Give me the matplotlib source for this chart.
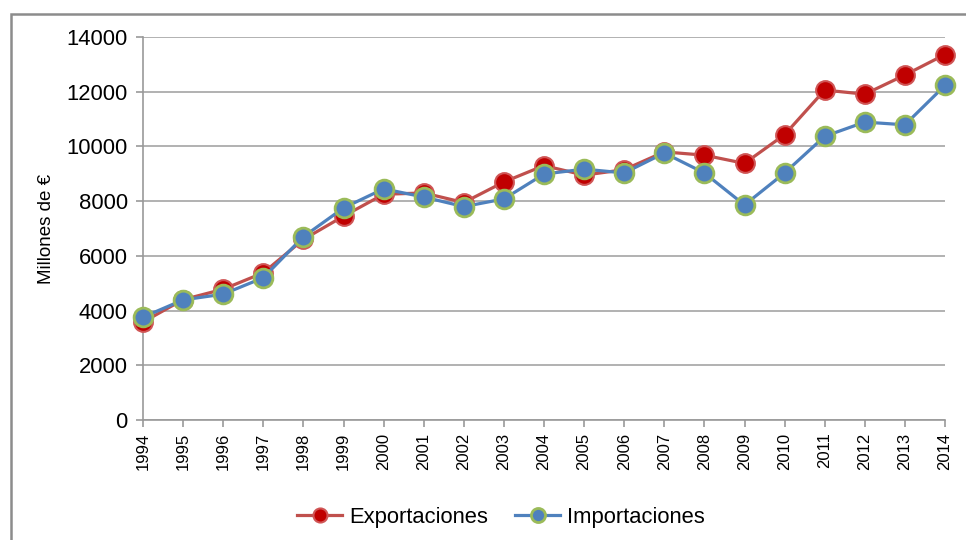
import matplotlib
matplotlib.use("Agg")
import matplotlib.pyplot as plt
from matplotlib.patches import Rectangle

plt.rcParams['font.family'] = ['Liberation Sans', 'DejaVu Sans']

years = list(range(1994, 2015))
exportaciones = [3580, 4400, 4780, 5380, 6600, 7450, 8250, 8300, 7950, 8700, 9300,
                 8950, 9150, 9800, 9680, 9380, 10430, 12060, 11910, 12610, 13360]
importaciones = [3760, 4390, 4600, 5200, 6700, 7750, 8450, 8150, 7800, 8080, 8990,
                 9170, 9030, 9760, 9030, 7860, 9030, 10370, 10890, 10790, 12230]
yticks = [0, 2000, 4000, 6000, 8000, 10000, 12000, 14000]

fig = plt.figure(figsize=(9.66, 5.4), dpi=100)
fig.patch.set_facecolor('white')

# outer chart border
fig.patches.append(Rectangle((11/966, -0.05), 1.1, 0.05 + 1 - 14/540,
                             transform=fig.transFigure, fill=False,
                             edgecolor='#8C8C8C', linewidth=1.8, zorder=0))

ax = fig.add_axes([143/966, 1 - 420/540, (945 - 143)/966, (420 - 37)/540])

ax.plot(years, exportaciones, color='#C0504D', linewidth=2.3, marker='o',
        markersize=13.5, markerfacecolor='#C00000', markeredgecolor='#D05555',
        markeredgewidth=1.5, label='Exportaciones', zorder=3, clip_on=False)
ax.plot(years, importaciones, color='#4F81BD', linewidth=2.3, marker='o',
        markersize=13.5, markerfacecolor='#4F81BD', markeredgecolor='#9BBB59',
        markeredgewidth=2, label='Importaciones', zorder=4, clip_on=False)

ax.set_xlim(1994, 2014)
ax.set_ylim(0, 14000)
ax.set_yticks(yticks)
ax.set_yticklabels([str(v) for v in yticks], fontsize=15.8)
ax.set_xticks(years)
ax.set_xticklabels([str(y) for y in years], rotation=90, fontsize=12)
ax.set_ylabel('Millones de €', fontsize=13.5, labelpad=8)

ax.grid(axis='y', color='#ABABAB', linewidth=1.3)
ax.set_axisbelow(True)
for s in ['top', 'right']:
    ax.spines[s].set_visible(False)
for s in ['left', 'bottom']:
    ax.spines[s].set_color('#999999')
    ax.spines[s].set_linewidth(1.2)
ax.tick_params(axis='both', direction='out', length=5, color='#999999', width=1.2)
ax.tick_params(axis='y', pad=6)
ax.tick_params(axis='x', pad=4)

fig.legend(loc='center', bbox_to_anchor=(0.5186, 1 - 517/540), ncol=2, frameon=False,
           fontsize=15.8, markerscale=0.75, handlelength=2.05, handletextpad=0.3,
           columnspacing=1.25)

fig.savefig('out.png', dpi=100, facecolor='white')
